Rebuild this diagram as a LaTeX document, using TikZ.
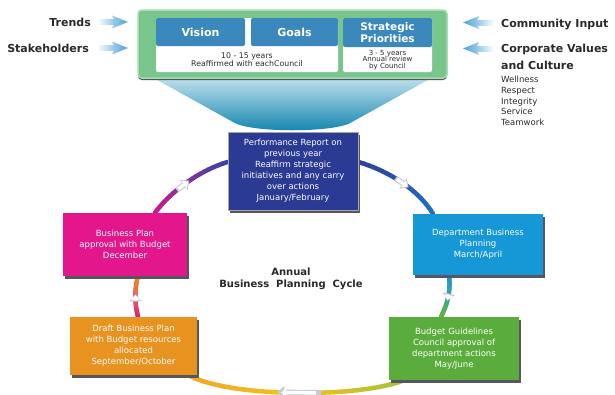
\documentclass[tikz,border=0pt]{standalone}
\usepackage{fontspec}
\setmainfont{DejaVu Sans}
\usetikzlibrary{shadows,backgrounds,arrows.meta}
\definecolor{gfill}{HTML}{78C68C}
\definecolor{gline}{HTML}{A6DDB0}
\definecolor{hblue}{HTML}{3B88BC}
\definecolor{perfc}{HTML}{2B3A92}
\definecolor{planc}{HTML}{E4168B}
\definecolor{deptc}{HTML}{1798D6}
\definecolor{draftc}{HTML}{E8931F}
\definecolor{budc}{HTML}{5AAD3C}
\definecolor{shad}{HTML}{55565E}
\definecolor{txt}{HTML}{2A2A2A}
\definecolor{arrb}{HTML}{4FA3DA}
\definecolor{funt}{HTML}{C6E2F0}
\definecolor{funb}{HTML}{0C84AC}
\definecolor{aMag}{HTML}{D4178C}
\definecolor{aPur}{HTML}{8A2F9E}
\definecolor{aInd}{HTML}{3B43A3}
\definecolor{aBl1}{HTML}{2D3F9C}
\definecolor{aBl2}{HTML}{2656B0}
\definecolor{aBl3}{HTML}{1F72C0}
\definecolor{aCy}{HTML}{1E90D0}
\definecolor{aTe}{HTML}{3AA7A0}
\definecolor{aGr}{HTML}{62B044}
\definecolor{aYg}{HTML}{9CC23A}
\definecolor{aYe}{HTML}{F2C21C}
\definecolor{aOr}{HTML}{EEA726}
\definecolor{aPk}{HTML}{E2157E}
\definecolor{aSal}{HTML}{E85A60}
\definecolor{aOr2}{HTML}{EE8A2A}
\definecolor{chevg}{HTML}{C9C9DA}
\tikzset{
  lbl/.style={font=\bfseries\fontsize{11}{13}\selectfont, text=txt, inner sep=0pt},
  val/.style={font=\fontsize{8.5}{10}\selectfont, text=txt, inner sep=0pt},
  ctr/.style={font=\bfseries\fontsize{10}{12}\selectfont, text=txt, align=center, inner sep=0pt},
  gbox/.style={rectangle, rounded corners=4pt, fill=gfill, draw=gline, line width=1.5pt,
    drop shadow={shadow xshift=0pt, shadow yshift=-2pt, fill=shad, opacity=1}},
  hdr/.style={rectangle, rounded corners=2pt, fill=hblue, text=white, align=center,
    font=\bfseries\fontsize{11}{12.5}\selectfont, inner sep=0pt},
  wpanel/.style={rectangle, rounded corners=2pt, fill=white, inner sep=0pt},
  smalltxt/.style={text=txt, align=center, inner sep=0pt},
  cbox/.style={rectangle, text=white, align=center, font=\fontsize{8.5}{11}\selectfont,
    inner sep=2pt, drop shadow={shadow xshift=2pt, shadow yshift=-3pt, fill=shad, opacity=1}},
  arcline/.style={line width=4.5pt, line cap=round},
  chevback/.style={draw=chevg, line width=5.5pt, -{Triangle[width=12.5pt,length=7pt]}},
  chev/.style={draw=white, line width=3.5pt, -{Triangle[width=9pt,length=5pt]}},
}
\newcommand\garc[8]{%
  \foreach \k in {0,...,20}{%
    \pgfmathsetmacro\gpos{\k/20}%
    \path #1 .. controls #2 and #3 .. #4 coordinate[pos=\gpos] (#8\k);}%
  \foreach \k in {1,...,20}{%
    \pgfmathtruncatemacro\gkm{\k-1}%
    \pgfmathtruncatemacro\gpa{10*\k-5}%
    \ifnum\gpa<100
      \draw[arcline, draw={#6!\gpa!#5}] (#8\gkm) -- (#8\k);
    \else
      \pgfmathtruncatemacro\gpb{\gpa-100}%
      \draw[arcline, draw={#7!\gpb!#6}] (#8\gkm) -- (#8\k);
    \fi}%
  \path #1 .. controls #2 and #3 .. #4 coordinate[pos=0.40] (#8a) coordinate[pos=0.57] (#8b)
     coordinate[pos=0.42] (#8c) coordinate[pos=0.555] (#8d);
  \draw[chevback] (#8a) -- (#8b);
  \draw[chev] (#8c) -- (#8d);
}
\begin{document}
\begin{tikzpicture}[x=1pt,y=-1pt]
\useasboundingbox (0,0) rectangle (615,394);
% ---- top panel
\node[gbox, minimum width=309, minimum height=68] (topbox) at (292.5,44) {};
\node[wpanel, minimum width=182, minimum height=54] (vgpanel) at (247,45) {};
\node[wpanel, minimum width=89, minimum height=54] (sppanel) at (387.5,45) {};
\node[hdr, minimum width=89, minimum height=28] (vision) at (200.5,32) {Vision};
\node[hdr, minimum width=87, minimum height=28] (goals) at (294.5,32) {Goals};
\node[hdr, minimum width=89, minimum height=29, font=\bfseries\fontsize{10.5}{12}\selectfont] (strat) at (387.5,32.5) {Strategic\\Priorities};
\node[smalltxt, font=\fontsize{7.8}{8.3}\selectfont] (vgtxt) at (247,59.5) {10 - 15 years\\Reaffirmed with eachCouncil};
\node[smalltxt, font=\fontsize{7}{6.8}\selectfont] (sptxt) at (387.5,60) {3 - 5 years\\Annual review\\by Council};
% ---- side labels
\node[lbl, anchor=base east] (trends) at (91,26) {Trends};
\node[lbl, anchor=base east] (stake) at (89,52) {Stakeholders};
\node[lbl, anchor=base west] (comm) at (501,27) {Community Input};
\node[lbl, anchor=base west] (corp) at (501,52) {Corporate Values};
\node[lbl, anchor=base west] (cult) at (501,69) {and Culture};
\node[val, anchor=base west] (v1) at (501,82) {Wellness};
\node[val, anchor=base west] (v2) at (501,93) {Respect};
\node[val, anchor=base west] (v3) at (501,104) {Integrity};
\node[val, anchor=base west] (v4) at (501,114.5) {Service};
\node[val, anchor=base west] (v5) at (501,125.5) {Teamwork};
% ---- input arrows
\foreach \yy in {22,48} {
  \shade[left color=white, right color=arrb!65] (97,\yy-2.5) rectangle (115,\yy+2.5);
  \shade[left color=arrb!55, right color=arrb] (112,\yy-6.5) -- (128,\yy) -- (112,\yy+6.5) -- (115,\yy) -- cycle;
  \shade[right color=white, left color=arrb!65] (476,\yy+0.5-2.5) rectangle (494,\yy+0.5+2.5);
  \shade[right color=arrb!55, left color=arrb] (479,\yy+0.5-6.5) -- (463,\yy+0.5) -- (479,\yy+0.5+6.5) -- (476,\yy+0.5) -- cycle;
}
% ---- cycle boxes
\node[cbox, fill=perfc, draw=gray!70, line width=1pt, minimum width=130, minimum height=78] (perf) at (293,171)
  {Performance Report on\\previous year\\Reaffirm strategic\\initiatives and any carry\\over actions\\January/February};
\node[cbox, fill=planc, minimum width=124, minimum height=63] (plan) at (125,244.5)
  {Business Plan\\approval with Budget\\December};
\node[cbox, fill=deptc, minimum width=130, minimum height=61] (dept) at (478,244.5)
  {Department Business\\Planning\\March/April};
\node[cbox, fill=draftc, minimum width=127, minimum height=58] (draft) at (133.5,346)
  {Draft Business Plan\\with Budget resources\\allocated\\September/October};
\node[cbox, fill=budc, minimum width=130, minimum height=63] (budget) at (454,348.5)
  {Budget Guidelines\\Council approval of\\department actions\\May/June};
\node[ctr] (cyc) at (291,279) {Annual\\Business\ \ Planning\ \ Cycle};
% ---- background: funnel and arcs
\begin{pgfonlayer}{background}
  \fill[white] (0,0) rectangle (615,394);
  \clip (0,0) rectangle (615,394);
  \shade[top color=funt, bottom color=funb] (150,76) -- (435,76) -- (352,122)
     .. controls (336,133) and (249,133) .. (233,122) -- cycle;
  \garc{([xshift=30pt]plan.north)}{(168,195)}{(195,172)}{([yshift=9pt]perf.west)}{aMag}{aPur}{aInd}{tl}
  \garc{([yshift=9pt]perf.east)}{(392,172)}{(420,192)}{([xshift=-45pt]dept.north)}{aBl1}{aBl2}{aBl3}{tr}
  \garc{([xshift=-29pt]dept.south)}{(451,292)}{(447,305)}{([xshift=-13pt]budget.north)}{aCy}{aTe}{aGr}{rr}
  \garc{([xshift=-50pt]budget.south)}{(360,398)}{(230,398)}{([xshift=55pt]draft.south)}{aYg}{aYe}{aOr}{bb}
  \garc{([xshift=4.5pt]draft.north)}{(135,305)}{(134,290)}{([xshift=13pt]plan.south)}{aPk}{aSal}{aOr2}{ll}
\end{pgfonlayer}
\end{tikzpicture}
\end{document}
